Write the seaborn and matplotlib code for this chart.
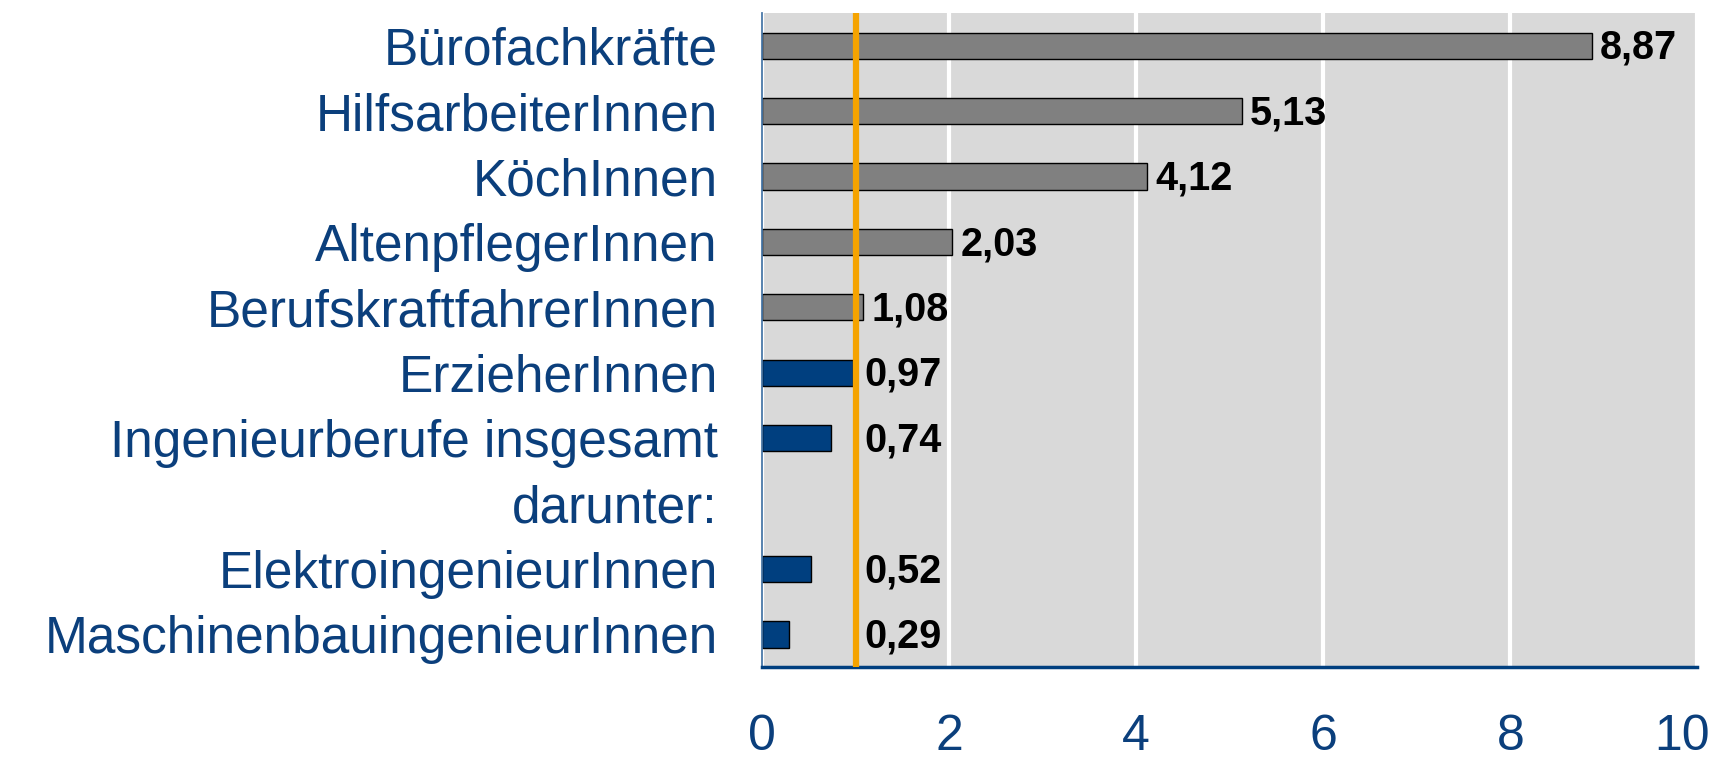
import matplotlib
matplotlib.use("Agg")
import matplotlib.pyplot as plt
import matplotlib.transforms as mtransforms
import seaborn as sns
import pandas as pd
import numpy as np

categories = ["Bürofachkräfte", "HilfsarbeiterInnen", "KöchInnen", "AltenpflegerInnen",
              "BerufskraftfahrerInnen", "ErzieherInnen", "Ingenieurberufe insgesamt",
              "darunter:", "ElektroingenieurInnen", "MaschinenbauingenieurInnen"]
values = [8.87, 5.13, 4.12, 2.03, 1.08, 0.97, 0.74, np.nan, 0.52, 0.29]
groups = ["grau", "grau", "grau", "grau", "grau", "blau", "blau", "blau", "blau", "blau"]
value_labels = ["8,87", "5,13", "4,12", "2,03", "1,08", "0,97", "0,74", "", "0,52", "0,29"]
xticks = [0, 2, 4, 6, 8, 10]
reference_value = 1.0

sns.set_theme(style="white")
plt.rcParams['font.family'] = ['Liberation Sans', 'DejaVu Sans']

BLUE = "#003f7f"
TXT = "#0b3f7c"
df = pd.DataFrame({"cat": categories, "val": values, "grp": groups})

fig = plt.figure(figsize=(17.32, 7.66), dpi=100)
ax = fig.add_axes([0.44, 0.129, 0.54, 0.854])
ax.set_facecolor("#d9d9d9")

sns.barplot(data=df, y="cat", x="val", hue="grp", order=categories,
            palette={"grau": "#808080", "blau": BLUE}, dodge=False, legend=False,
            saturation=1, width=0.4, edgecolor="black", linewidth=1.0, orient="h", ax=ax)

ax.set_xlim(0, 10)
ax.set_ylim(len(categories) - 0.5, -0.5)
ax.set_xticks(xticks)
ax.set_xticklabels([str(t) for t in xticks])
ax.xaxis.grid(True, color="white", linewidth=3)
ax.set_axisbelow(True)
ax.axvline(reference_value, color="#f5a300", linewidth=4.5, zorder=5)

for i, (v, lab) in enumerate(zip(values, value_labels)):
    if lab:
        ax.annotate(lab, xy=(max(v, reference_value), i), xytext=(6, -1.5),
                    textcoords="offset points", va="center", ha="left",
                    fontsize=28.5, fontweight="bold", color="black", zorder=6)

ax.set_xlabel("")
ax.set_ylabel("")
ax.tick_params(axis="x", length=0, pad=34, labelsize=36, labelcolor=TXT)
ax.tick_params(axis="y", which="major", length=0, pad=32, labelsize=37, labelcolor=TXT)
ax.set_yticks(np.arange(len(categories) + 1) - 0.5, minor=True)
ax.tick_params(axis="y", which="minor", length=11.5, width=1.3, color="#4a78a8", direction="out")

# last x tick label sits slightly left of the axis end in the reference
last = ax.get_xticklabels()[-1]
last.set_transform(last.get_transform() + mtransforms.ScaledTranslation(-15 / 100, 0, fig.dpi_scale_trans))

for s in ["top", "right"]:
    ax.spines[s].set_visible(False)
ax.spines["left"].set_color("#4a78a8")
ax.spines["left"].set_linewidth(1.3)
ax.spines["bottom"].set_color(BLUE)
ax.spines["bottom"].set_linewidth(2.5)

fig.savefig("out.png", dpi=100)
